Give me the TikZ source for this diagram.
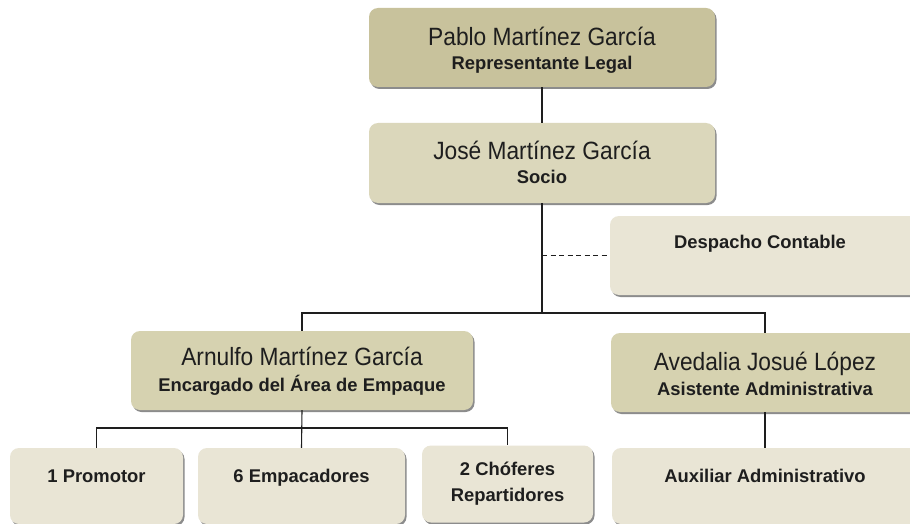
\documentclass[tikz,border=0pt]{standalone}
\usepackage{fontspec}
\setmainfont{Liberation Sans}
\newfontfamily\namefont[FakeStretch=0.91]{Liberation Sans}
\usetikzlibrary{shadows}
\definecolor{lvlA}{HTML}{C8C29C}
\definecolor{lvlB}{HTML}{DBD7BB}
\definecolor{lvlC}{HTML}{D6D2B0}
\definecolor{lvlD}{HTML}{E9E5D5}
\definecolor{ink}{HTML}{1E1E1E}
\tikzset{
  orgbox/.style={rectangle, rounded corners=9pt, inner sep=0pt, draw=none,
    drop shadow={shadow xshift=1.5pt, shadow yshift=-2pt, fill=black!45, opacity=1}},
  namelbl/.style={anchor=base, inner sep=0pt, text=ink, font=\namefont\fontsize{25}{28}\selectfont},
  rolelbl/.style={anchor=base, inner sep=0pt, text=ink, font=\bfseries\fontsize{18.4}{22}\selectfont},
  conn/.style={draw=ink, line width=1.1pt},
  dashconn/.style={draw=ink, line width=1.1pt, dash pattern=on 5pt off 3.5pt}
}
\begin{document}
\begin{tikzpicture}[x=1pt, y=-1pt]
\fill[white] (0,0) rectangle (910,524);
\useasboundingbox (0,0) rectangle (910,524);
% boxes
\node[orgbox, fill=lvlA, minimum width=346pt, minimum height=79pt] (pablo) at (542,47.5) {};
\node[orgbox, fill=lvlB, minimum width=346pt, minimum height=80pt] (jose) at (542,163) {};
\node[orgbox, fill=lvlD, minimum width=310pt, minimum height=79pt] (desp) at (765,255.5) {};
\node[orgbox, fill=lvlC, minimum width=342pt, minimum height=79pt] (arnulfo) at (302,370.5) {};
\node[orgbox, fill=lvlC, minimum width=308pt, minimum height=79pt] (aveda) at (765,372.5) {};
\node[orgbox, fill=lvlD, minimum width=173pt, minimum height=76pt] (promo) at (96.5,486) {};
\node[orgbox, fill=lvlD, minimum width=207pt, minimum height=76pt] (empa) at (301.5,486) {};
\node[orgbox, fill=lvlD, minimum width=171pt, minimum height=77pt] (chofer) at (507.5,484) {};
\node[orgbox, fill=lvlD, minimum width=306pt, minimum height=76pt] (aux) at (765,486) {};
% texts
\node[namelbl] (t1a) at (542,46) {Pablo Martínez García};
\node[rolelbl] (t1b) at (542,70) {Representante Legal};
\node[namelbl] (t2a) at (542,160) {José Martínez García};
\node[rolelbl] (t2b) at (542,183) {Socio};
\node[rolelbl] (t3) at (760,248) {Despacho Contable};
\node[namelbl] (t4a) at (302,365) {Arnulfo Martínez García};
\node[rolelbl] (t4b) at (302,391) {Encargado del Área de Empaque};
\node[namelbl] (t5a) at (765,370) {Avedalia Josué López};
\node[rolelbl] (t5b) at (765,395) {Asistente Administrativa};
\node[rolelbl] (t6) at (96.5,482) {1 Promotor};
\node[rolelbl] (t7) at (301.5,482) {6 Empacadores};
\node[rolelbl] (t8a) at (507.5,475) {2 Chóferes};
\node[rolelbl] (t8b) at (507.5,501) {Repartidores};
\node[rolelbl] (t9) at (765,482) {Auxiliar Administrativo};
% connectors
\coordinate (trunk) at (542,313);
\coordinate (branch) at (301.5,428);
\draw[conn] (pablo.south) -- (jose.north);
\draw[conn] (jose.south) -- (trunk);
\draw[dashconn] (desp.west -| trunk) -- (desp.west);
\draw[conn] (arnulfo.north) |- (trunk) -| (aveda.north);
\draw[conn] (arnulfo.south) -- (empa.north);
\draw[conn] (promo.north) |- (branch) -| (chofer.north);
\draw[conn] (aveda.south) -- (aux.north);
\end{tikzpicture}
\end{document}
